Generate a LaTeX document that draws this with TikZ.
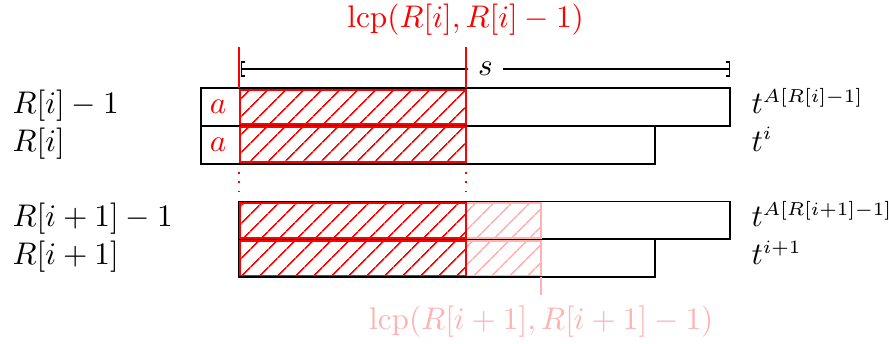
\documentclass[tikz,border=0pt]{standalone}
\usetikzlibrary{arrows.meta,patterns.meta}
\DeclareMathSizes{10}{10}{6.4}{5}
\colorlet{lcpred}{red}
\colorlet{lcppink}{red!30}
\tikzset{
  row/.style={draw,semithick},
  hatch/.style={draw=#1,semithick,pattern={Lines[angle=45,distance=4pt,line width=.5pt]},pattern color=#1},
  lead/.style={draw=#1,line width=.6pt},
  lbl/.style={anchor=base west,inner sep=0pt},
  dots/.style={draw=lcpred,line width=.6pt,dash pattern=on .6pt off 2.3pt},
}

\begin{document}
\begin{tikzpicture}[x=.4245cm,y=.4245cm]
\useasboundingbox (-5.32,-1.75) rectangle (18.2,7.33);
% suffixes
\draw[row] (0,4) rectangle (14,5);
\draw[row] (0,3) rectangle (12,4);
\draw[row] (1,1) rectangle (14,2);
\draw[row] (1,0) rectangle (12,1);
% common prefixes
\foreach \y in {0,1}{\draw[hatch=lcppink] (7,\y+.04) rectangle (9,\y+.96);}
\foreach \y in {0,1,3,4}{\draw[hatch=lcpred] (1.04,\y+.04) rectangle (7,\y+.96);}
\node[text=lcpred] (a1) at (.45,4.5) {$a$};
\node[text=lcpred] (a2) at (.45,3.5) {$a$};
% row labels
\node[lbl] (r1) at (-5,4.33) {$R[i]-1$};
\node[lbl] (r2) at (-5,3.33) {$R[i]$};
\node[lbl] (r3) at (-5,1.33) {$R[i+1]-1$};
\node[lbl] (r4) at (-5,.33) {$R[i+1]$};
\node[lbl] (t1) at (14.55,4.33) {$t^{A[R[i]-1]}$};
\node[lbl] (t2) at (14.55,3.33) {$t^{i}$};
\node[lbl] (t3) at (14.55,1.33) {$t^{A[R[i+1]-1]}$};
\node[lbl] (t4) at (14.55,.33) {$t^{i+1}$};
% length s
\coordinate (sl) at (1.05,5.5);\coordinate (sr) at (14,5.5);
\draw[line width=.5pt,{Bracket[width=5pt,length=1pt]}-{Bracket[width=5pt,length=1pt]}] (sl) -- node[fill=white] (s) {$s$} (sr);
% lcp labels
\node[text=lcpred] (lcpa) at (7,6.8) {$\mathrm{lcp}(R[i],R[i]-1)$};
\node[text=lcppink] (lcpb) at (9,-1.19) {$\mathrm{lcp}(R[i+1],R[i+1]-1)$};
\coordinate (c1) at (1,5);\coordinate (c7) at (7,5);\coordinate (c9) at (9,0);
\draw[lead=lcpred] (c1) -- (c1 |- lcpa.south);
\draw[lead=lcpred] (c7) -- (lcpa.south);
\draw[lead=lcppink] (c9) -- (lcpb.north);
\foreach \x in {1,7}{\draw[dots] (\x,2.77) -- (\x,2.2);}
\end{tikzpicture}
\end{document}
